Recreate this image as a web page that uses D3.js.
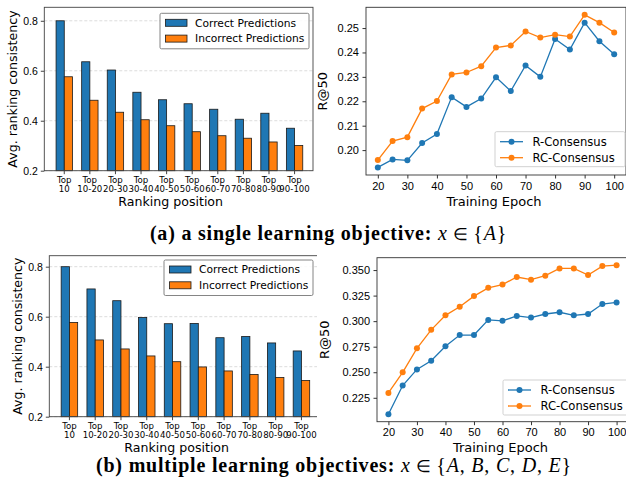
<!DOCTYPE html>
<html>
<head>
<meta charset="utf-8">
<script src="https://cdn.jsdelivr.net/npm/d3@7"></script>
<style>
  body { margin: 0; background: #fff; }
  svg { display: block; font-family: "DejaVu Sans", sans-serif; }
</style>
</head>
<body>
<svg id="fig" width="626" height="487"></svg>
<script>
// ranking buckets (x categories of the bar charts)
var rankPositions = ["Top 10", "Top 10-20", "Top 20-30", "Top 30-40", "Top 40-50",
                     "Top 50-60", "Top 60-70", "Top 70-80", "Top 80-90", "Top 90-100"]
var barSeries = ["Correct Predictions", "Incorrect Predictions"]

// (a) single objective
var singleCorrect   = [0.800, 0.636, 0.603, 0.514, 0.484, 0.468, 0.446, 0.406, 0.430, 0.370]
var singleIncorrect = [0.576, 0.482, 0.434, 0.404, 0.380, 0.356, 0.340, 0.330, 0.315, 0.301]
// (b) multiple objectives
var multiCorrect    = [0.800, 0.711, 0.664, 0.597, 0.572, 0.573, 0.516, 0.521, 0.495, 0.463]
var multiIncorrect  = [0.577, 0.507, 0.471, 0.443, 0.420, 0.399, 0.383, 0.369, 0.357, 0.345]

var epochs = [20, 25, 30, 35, 40, 45, 50, 55, 60, 65, 70, 75, 80, 85, 90, 95, 100]
var lineSeries = ["R-Consensus", "RC-Consensus"]
var singleR  = [0.1929, 0.1962, 0.1958, 0.2029, 0.2066, 0.2217, 0.2177, 0.2211, 0.2298,
                0.2242, 0.2347, 0.2300, 0.2455, 0.2412, 0.2522, 0.2446, 0.2393]
var singleRC = [0.1959, 0.2037, 0.2053, 0.2170, 0.2201, 0.2310, 0.2318, 0.2344, 0.2420,
                0.2429, 0.2486, 0.2461, 0.2473, 0.2465, 0.2554, 0.2522, 0.2482]
var multiR   = [0.2089, 0.2370, 0.2528, 0.2612, 0.2754, 0.2864, 0.2864, 0.3012, 0.3003,
                0.3051, 0.3035, 0.3070, 0.3087, 0.3057, 0.3070, 0.3167, 0.3183]
var multiRC  = [0.2298, 0.2499, 0.2734, 0.2915, 0.3057, 0.3141, 0.3245, 0.3326, 0.3358,
                0.3432, 0.3406, 0.3445, 0.3516, 0.3516, 0.3452, 0.3539, 0.3548]

var blue = "#1f77b4", orange = "#ff7f0e"
var svg = d3.select("#fig")
var defs = svg.append("defs")

// bar chart panel
function drawBars(cfg) {
	var g = svg.append("g")
	if (cfg.clip) {
		defs.append("clipPath").attr("id", cfg.clip.id)
			.append("rect").attr("x", 0).attr("y", cfg.top - 20)
			.attr("width", cfg.clip.w).attr("height", 260)
		g.attr("clip-path", "url(#" + cfg.clip.id + ")")
	}
	var x = d3.scaleLinear().domain([-0.78, 9.72]).range([cfg.left, cfg.right])
	var y = d3.scaleLinear().domain(cfg.yDomain).range([cfg.bottom, cfg.top])
	var bw = 0.32

	// dashed grid
	g.append("g").selectAll("line").data([0.2, 0.4, 0.6, 0.8]).join("line")
		.attr("x1", cfg.left).attr("x2", cfg.right)
		.attr("y1", d => y(d)).attr("y2", d => y(d))
		.attr("stroke", "#d8d8d8").attr("stroke-width", 0.9).attr("stroke-dasharray", "3,2")

	var vals = [cfg.correct, cfg.incorrect]
	vals.forEach(function(arr, s) {
		g.append("g").selectAll("rect").data(arr).join("rect")
			.attr("x", (d, i) => x(i + (s === 0 ? -bw : 0)))
			.attr("width", x(bw) - x(0))
			.attr("y", d => y(d))
			.attr("height", d => cfg.bottom - y(d))
			.attr("fill", s === 0 ? blue : orange)
			.attr("stroke", "#1a1a1a").attr("stroke-width", 0.8)
	})

	// frame
	g.append("rect").attr("x", cfg.left).attr("y", cfg.top)
		.attr("width", cfg.right - cfg.left).attr("height", cfg.bottom - cfg.top)
		.attr("fill", "none").attr("stroke", "#444").attr("stroke-width", 0.9)

	var ya = g.append("g").attr("transform", "translate(" + cfg.left + ",0)")
		.call(d3.axisLeft(y).tickValues([0.2, 0.4, 0.6, 0.8]).tickFormat(d3.format(".1f"))
			.tickSize(3.5).tickPadding(3))
	ya.select(".domain").remove()
	ya.selectAll("text").attr("font-size", 10.5).attr("fill", "#000")
	ya.selectAll("line").attr("stroke", "#444")

	var xt = g.append("g")
	rankPositions.forEach(function(lab, i) {
		var parts = lab.split(" ")
		xt.append("line").attr("x1", x(i)).attr("x2", x(i))
			.attr("y1", cfg.bottom).attr("y2", cfg.bottom + 3.5).attr("stroke", "#444")
		var t = xt.append("text").attr("text-anchor", "middle").attr("font-size", 8.6)
		t.append("tspan").attr("x", x(i)).attr("y", cfg.bottom + 12.5).text(parts[0])
		t.append("tspan").attr("x", x(i)).attr("y", cfg.bottom + 21.5).text(parts[1])
	})

	g.append("text").attr("x", (cfg.left + cfg.right) / 2 - 8).attr("y", cfg.bottom + 35)
		.attr("text-anchor", "middle").attr("font-size", 12.6).text("Ranking position")
	g.append("text")
		.attr("transform", "translate(" + (cfg.left - 27) + "," + ((cfg.top + cfg.bottom) / 2) + ") rotate(-90)")
		.attr("text-anchor", "middle").attr("font-size", 12.6).text("Avg. ranking consistency")

	// legend
	var lg = g.append("g").attr("transform", "translate(" + cfg.legend[0] + "," + cfg.legend[1] + ")")
	lg.append("rect").attr("width", 149).attr("height", 35.5).attr("rx", 1.5)
		.attr("fill", "#fff").attr("fill-opacity", 0.85).attr("stroke", "#777").attr("stroke-width", 0.9)
	barSeries.forEach(function(name, i) {
		var cy = 9.5 + i * 15.8
		lg.append("rect").attr("x", 5.5).attr("y", cy - 3.5).attr("width", 21.5).attr("height", 7)
			.attr("fill", i === 0 ? blue : orange).attr("stroke", "#1a1a1a").attr("stroke-width", 0.8)
		lg.append("text").attr("x", 35).attr("y", cy + 3.8).attr("font-size", 10.7).text(name)
	})
}

// line chart panel
function drawLines(cfg) {
	var g = svg.append("g")
	var x = d3.scaleLinear().domain([16, 104]).range([cfg.left, cfg.right])
	var y = d3.scaleLinear().domain(cfg.yDomain).range([cfg.bottom, cfg.top])

	g.append("rect").attr("x", cfg.left).attr("y", cfg.top)
		.attr("width", cfg.right - cfg.left).attr("height", cfg.bottom - cfg.top)
		.attr("fill", "none").attr("stroke", "#333").attr("stroke-width", 0.9)

	var ya = g.append("g").attr("transform", "translate(" + cfg.left + ",0)")
		.call(d3.axisLeft(y).tickValues(cfg.yTicks).tickFormat(d3.format(cfg.yFmt))
			.tickSize(3.5).tickPadding(3.5))
	ya.select(".domain").remove()
	ya.selectAll("text").attr("font-size", 11).attr("fill", "#000")
	ya.selectAll("line").attr("stroke", "#333")

	var xa = g.append("g").attr("transform", "translate(0," + cfg.bottom + ")")
		.call(d3.axisBottom(x).tickValues(d3.range(20, 101, 10)).tickSize(3.5).tickPadding(3.5))
	xa.select(".domain").remove()
	xa.selectAll("text").attr("font-size", 11).attr("fill", "#000")
	xa.selectAll("line").attr("stroke", "#333")

	var line = d3.line().x((d, i) => x(epochs[i])).y(d => y(d))
	;[cfg.r, cfg.rc].forEach(function(arr, s) {
		var col = s === 0 ? blue : orange
		g.append("path").datum(arr).attr("d", line)
			.attr("fill", "none").attr("stroke", col).attr("stroke-width", 1.3)
		g.append("g").selectAll("circle").data(arr).join("circle")
			.attr("cx", (d, i) => x(epochs[i])).attr("cy", d => y(d)).attr("r", 3)
			.attr("fill", col)
	})

	g.append("text").attr("x", (cfg.left + cfg.right) / 2 - 2).attr("y", cfg.bottom + 30.5)
		.attr("text-anchor", "middle").attr("font-size", 13).text("Training Epoch")
	g.append("text")
		.attr("transform", "translate(" + cfg.yLabelX + "," + ((cfg.top + cfg.bottom) / 2) + ") rotate(-90)")
		.attr("text-anchor", "middle").attr("font-size", 13).text("R@50")

	var lg = g.append("g").attr("transform", "translate(" + cfg.legend[0] + "," + cfg.legend[1] + ")")
	lg.append("rect").attr("width", 130).attr("height", 35).attr("rx", 1.5)
		.attr("fill", "#fff").attr("fill-opacity", 0.85).attr("stroke", "#ccc").attr("stroke-width", 0.9)
	lineSeries.forEach(function(name, i) {
		var cy = 10 + i * 16
		var col = i === 0 ? blue : orange
		lg.append("line").attr("x1", 5).attr("x2", 28).attr("y1", cy).attr("y2", cy)
			.attr("stroke", col).attr("stroke-width", 1.3)
		lg.append("circle").attr("cx", 16.5).attr("cy", cy).attr("r", 3).attr("fill", col)
		lg.append("text").attr("x", 37.5).attr("y", cy + 4.2).attr("font-size", 11.6).text(name)
	})
}

drawBars({ left: 44.3, right: 313, top: 7.3, bottom: 170.7, yDomain: [0.2, 0.854],
           correct: singleCorrect, incorrect: singleIncorrect, legend: [160, 13.3] })
drawBars({ left: 49.3, right: 320, top: 255.7, bottom: 416.7, yDomain: [0.2, 0.844],
           correct: multiCorrect, incorrect: multiIncorrect, legend: [164, 260],
           clip: { id: "clipB", w: 317 } })

drawLines({ left: 366, right: 626, top: 7.3, bottom: 175, yDomain: [0.1898, 0.2585],
            yTicks: [0.20, 0.21, 0.22, 0.23, 0.24, 0.25], yFmt: ".2f", yLabelX: 327,
            r: singleR, rc: singleRC, legend: [495, 131.7] })
drawLines({ left: 377, right: 628, top: 257.7, bottom: 421.7, yDomain: [0.2016, 0.3621],
            yTicks: [0.225, 0.25, 0.275, 0.3, 0.325, 0.35], yFmt: ".3f", yLabelX: 329,
            r: multiR, rc: multiRC, legend: [503, 380] })

// captions: bold text, then math (italic letters, upright symbols)
var caps = [
	{ x: 328.5, y: 239.5, bold: "(a) a single learning objective: ", math: ["x", " ∈ ", "{", "A", "}"] },
	{ x: 334, y: 472, bold: "(b) multiple learning objectives: ",
	  math: ["x", " ∈ ", "{", "A", ", ", "B", ", ", "C", ", ", "D", ", ", "E", "}"] }
]
caps.forEach(function(c) {
	var t = svg.append("text").attr("x", c.x).attr("y", c.y).attr("text-anchor", "middle")
		.attr("font-family", "'Liberation Serif', serif").attr("font-size", 20)
		.attr("letter-spacing", 0.8)
	t.append("tspan").attr("font-weight", "bold").text(c.bold)
	c.math.forEach(function(m) {
		var ts = t.append("tspan").text(m)
		if (/^[A-Za-z]$/.test(m)) ts.attr("font-style", "italic")
		if (m.indexOf("∈") >= 0) ts.attr("font-size", 16.5)
	})
})
</script>
</body>
</html>
